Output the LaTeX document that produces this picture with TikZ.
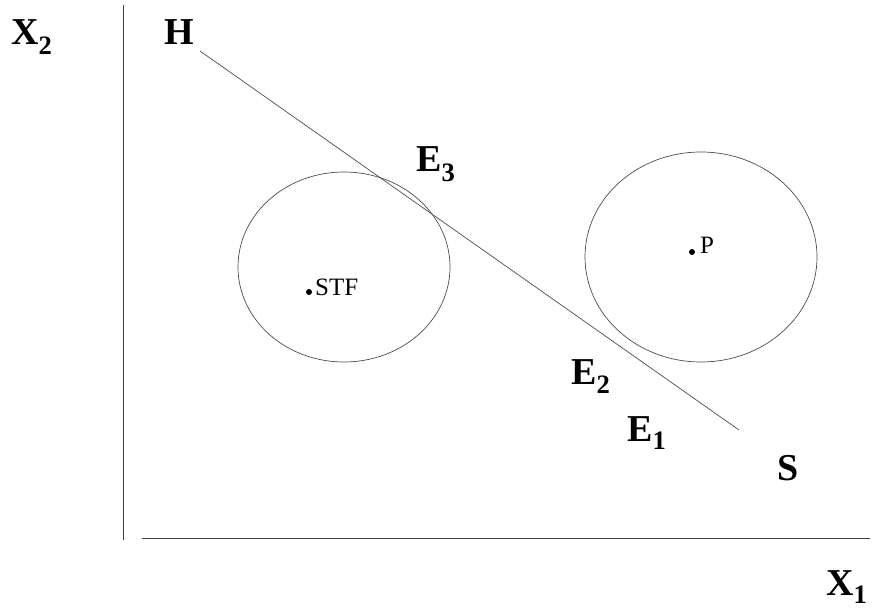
\documentclass[tikz,border=0pt]{standalone}
\usepackage{fontspec}
\setmainfont{Liberation Serif}
\usetikzlibrary{shapes.geometric}
\begin{document}
\begin{tikzpicture}[x=1pt,y=-1pt,
  axis/.style={draw=black!75,line width=0.8pt},
  curve/.style={draw=black!70,line width=0.7pt},
  biglab/.style={anchor=base west,inner sep=0pt,font=\fontsize{38}{42}\selectfont\bfseries},
  smalllab/.style={anchor=base west,inner sep=0pt,font=\fontsize{25}{28}\selectfont},
  dotpt/.style={circle,fill=black,inner sep=0pt,minimum size=6pt}]
\useasboundingbox (0,0) rectangle (872,609);
% axes
\coordinate (ytop) at (123,5);
\coordinate (ybot) at (123,540);
\coordinate (xl) at (142,538);
\coordinate (xr) at (870,538);
\draw[axis] (ytop) -- (ybot);
\draw[axis] (xl) -- (xr);
% line H-S
\coordinate (hs1) at (200,51);
\coordinate (hs2) at (739,430);
\draw[curve] (hs1) -- (hs2);
% circles
\node[curve,ellipse,minimum width=212pt,minimum height=190pt,inner sep=0pt] (cstf) at (344,267) {};
\node[curve,ellipse,minimum width=232pt,minimum height=210pt,inner sep=0pt] (cp) at (701,257) {};
% points
\node[dotpt] (dstf) at (309,292) {};
\node[smalllab] (tstf) at (315,296) {STF};
\node[dotpt] (dp) at (692,252) {};
\node[smalllab] (tp) at (700,254) {P};
% labels
\node[biglab] (lx2) at (11,45) {X\textsubscript{2}};
\node[biglab] (lh) at (164,45) {H};
\node[biglab] (le3) at (416,172) {E\textsubscript{3}};
\node[biglab] (le2) at (571,384) {E\textsubscript{2}};
\node[biglab] (le1) at (627,441) {E\textsubscript{1}};
\node[biglab] (ls) at (777,480) {S};
\node[biglab] (lx1) at (826,595) {X\textsubscript{1}};
\end{tikzpicture}
\end{document}
